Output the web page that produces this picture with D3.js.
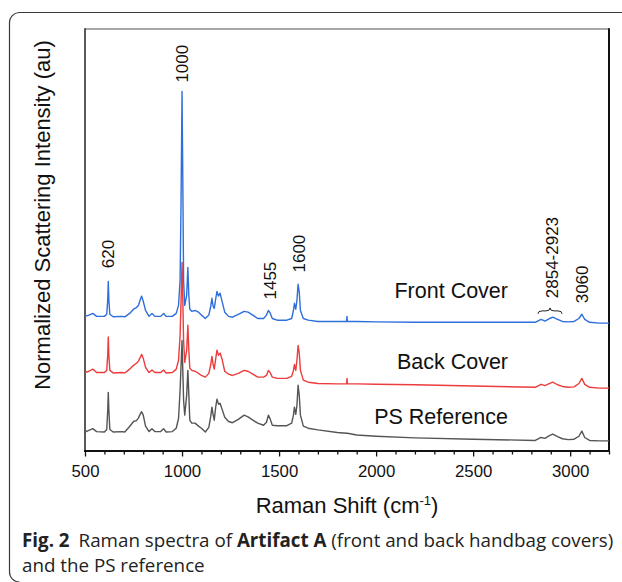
<!DOCTYPE html>
<meta charset="utf-8">
<style>
body {
  margin: 0;
  background-color: #ffffff;
}
.axis text {
  font: 16.8px "Liberation Sans", Arial, sans-serif;
  fill: #111;
}
.axis line {
  stroke: #111;
  stroke-width: 1.3px;
}
.spectrum {
  fill: none;
  stroke-width: 1.4px;
  stroke-linejoin: round;
}
.peak-label {
  font: 17px "Liberation Sans", Arial, sans-serif;
  fill: #111;
}
.series-label {
  font: 21.5px "Liberation Sans", Arial, sans-serif;
  fill: #111;
}
.axis-title {
  font: 22px "Liberation Sans", Arial, sans-serif;
  fill: #111;
}
.caption {
  font-family: "Open Sans", "Noto Sans", sans-serif;
  fill: #222;
}
</style>
<body>
<svg width="622" height="582"></svg>
</body>

<script src="https://cdn.jsdelivr.net/npm/d3@7/dist/d3.min.js"></script>

<script>

// raman shift grid (cm-1), shared by the three spectra
var shifts = [500,520,540,560,600,612,617,620,623,628,645,690,705,730,750,765,775,785,792,800,
  812,830,845,860,890,905,918,950,970,982,990,995,1000,1004,1008,1014,1024,1030,1035,1040,
  1050,1067,1085,1100,1120,1138,1148,1154,1160,1166,1174,1180,1188,1196,1205,1220,1240,1260,1290,1320,
  1340,1365,1390,1420,1435,1445,1455,1465,1490,1540,1565,1574,1579,1586,1592,1598,1604,1610,1625,1650,
  1700,1800,1848,1850,1852,1900,2000,2200,2500,2820,2850,2870,2895,2910,2935,2960,2990,3020,3045,3060,
  3075,3100,3150,3200];

// normalized intensities (stacked, au)
var frontCover = [31.9,32.2,32.6,31.9,31.9,32.4,35.7,40.2,35.7,32.4,31.8,31.9,31.8,32.6,33.6,34.0,34.5,35.9,36.7,35.5,
  33.3,31.9,32.6,31.9,31.9,32.6,31.9,31.9,32.6,34.5,40.5,59.4,85.2,64.1,40.5,34.5,36.9,43.5,36.9,33.6,
  33.1,33.3,32.9,32.2,31.4,32.2,34.3,36.2,34.3,33.8,36.2,37.8,36.7,37.4,35.7,32.9,31.9,31.7,32.4,33.1,
  32.9,32.2,31.4,31.4,32.2,33.3,32.6,31.4,31.0,31.0,31.4,33.3,35.0,33.6,35.7,39.5,37.6,33.3,31.4,31.0,
  30.7,30.7,30.7,31.9,30.7,30.7,30.6,30.5,30.5,30.5,31.2,30.8,31.4,31.7,31.2,30.7,30.6,30.7,31.4,32.4,
  31.2,30.5,30.3,30.3];

var backCover = [18.6,18.9,19.4,18.6,18.6,19.1,22.7,27.0,22.7,19.1,18.5,18.6,18.5,19.4,20.3,20.8,21.3,22.2,22.9,22.0,
  19.8,18.6,19.2,18.6,18.6,19.2,18.5,18.6,19.4,21.5,27.4,35.7,44.7,35.7,26.2,21.0,23.9,29.8,23.9,19.6,
  19.1,18.9,18.4,17.9,17.5,18.4,20.5,22.4,20.5,19.4,22.0,23.9,22.7,23.2,22.0,18.9,18.2,17.9,18.4,19.1,
  18.9,18.2,17.5,17.5,17.9,19.1,18.5,17.5,17.2,17.2,17.7,19.1,20.5,19.1,21.5,25.0,23.2,19.1,16.8,16.3,
  16.0,15.9,15.9,17.2,15.9,15.9,15.8,15.7,15.4,15.1,15.8,15.5,16.0,16.3,15.7,15.3,15.1,15.2,16.0,17.2,
  15.8,15.1,14.9,14.9];

var psReference = [4.5,4.9,5.3,4.6,4.5,5.1,9.6,13.9,9.6,5.1,4.5,4.6,4.5,5.8,7.0,7.2,7.8,8.8,9.3,8.5,
  5.9,4.6,5.3,4.6,4.6,5.3,4.5,4.6,5.4,7.7,14.4,20.3,26.2,19.1,12.0,8.5,13.3,19.1,13.3,7.3,
  6.6,6.6,5.9,5.4,4.5,5.6,8.2,10.4,8.7,7.3,10.6,12.3,11.1,11.3,10.1,8.0,7.0,6.7,7.5,8.5,
  8.1,7.3,6.6,6.1,6.8,8.5,7.5,6.1,6.0,6.0,6.6,8.5,10.4,8.7,10.8,15.6,13.2,8.5,5.9,5.4,
  5.0,4.4,4.2,4.2,4.2,3.8,3.5,3.1,2.8,2.5,3.2,3.0,3.7,4.0,3.4,2.9,2.7,2.8,3.5,4.7,
  3.2,2.5,2.4,2.4];

var seriesNames = ["Front Cover", "Back Cover", "PS Reference"];
var seriesColors = ["#2e6fdc", "#ec3c3c", "#555555"];
// level (au) of each series label baseline
var seriesLabelLevel = [36.2, 19.4, 6.3];

var peakLabels = ["620", "1000", "1455", "1600", "2854-2923", "3060"];
var peakShifts = [620, 1000, 1455, 1600, 2904, 3058];
var peakLevels = [43.3, 87.3, 35.9, 42.3, 36.2, 35.0];

var xTicks = [500, 1000, 1500, 2000, 2500, 3000];

var svg = d3.select("svg");

var plot = {left: 85, right: 609, top: 29, bottom: 451};

var x = d3.scaleLinear().domain([500, 3200]).range([plot.left, plot.right]);
var y = d3.scaleLinear().domain([0, 100]).range([plot.bottom, plot.top]);

// outer figure border (only top/left visible)
svg.append("path")
  .attr("d", "M622,12.5 H19 A10,10 0 0 0 9.5,22.5 V572 A10,10 0 0 0 19.5,582")
  .attr("fill", "none")
  .attr("stroke", "#3a3a3a")
  .attr("stroke-width", 1.2);

// frame
svg.append("line")
  .attr("x1", plot.left).attr("x2", plot.right)
  .attr("y1", plot.top).attr("y2", plot.top)
  .attr("stroke", "#8a8a8a").attr("stroke-width", 1.5);
svg.append("line")
  .attr("x1", plot.right).attr("x2", plot.right)
  .attr("y1", plot.top - 0.7).attr("y2", plot.bottom)
  .attr("stroke", "#111").attr("stroke-width", 2);
svg.append("line")
  .attr("x1", plot.left).attr("x2", plot.left)
  .attr("y1", plot.top - 0.7).attr("y2", plot.bottom)
  .attr("stroke", "#222").attr("stroke-width", 1.5);

// spectra
var line = d3.line()
  .x(function(d) { return x(d[0]); })
  .y(function(d) { return y(d[1]); });

[psReference, backCover, frontCover].forEach(function(vals, k) {
  var idx = 2 - k;
  svg.append("path")
    .datum(shifts.map(function(s, i) { return [s, vals[i]]; }))
    .attr("class", "spectrum")
    .attr("stroke", seriesColors[idx])
    .attr("d", line);
});

// x axis
var minorTicks = d3.range(600, 3201, 100).filter(function(v) { return v % 500 !== 0; });

var gMinor = svg.append("g")
  .attr("class", "axis")
  .attr("transform", "translate(0," + plot.bottom + ")")
  .call(d3.axisBottom(x).tickValues(minorTicks).tickSize(3.5).tickFormat(""));
gMinor.select(".domain").remove();

var gX = svg.append("g")
  .attr("class", "axis")
  .attr("transform", "translate(0," + plot.bottom + ")")
  .call(d3.axisBottom(x).tickValues(xTicks).tickSize(5.5).tickPadding(8.5).tickFormat(d3.format("d")));
gX.select(".domain").remove();

svg.append("line")
  .attr("x1", plot.left - 1).attr("x2", plot.right + 1)
  .attr("y1", plot.bottom).attr("y2", plot.bottom)
  .attr("stroke", "#111").attr("stroke-width", 2);

// series labels
svg.selectAll(".series-label")
  .data(seriesNames)
  .enter().append("text")
  .attr("class", "series-label")
  .attr("x", 508)
  .attr("y", function(d, i) { return y(seriesLabelLevel[i]); })
  .attr("text-anchor", "end")
  .text(function(d) { return d; });

// peak labels
svg.selectAll(".peak-label")
  .data(peakLabels)
  .enter().append("text")
  .attr("class", "peak-label")
  .attr("transform", function(d, i) {
    return "translate(" + x(peakShifts[i]) + "," + y(peakLevels[i]) + ")rotate(-90)";
  })
  .attr("dy", "0.36em")
  .text(function(d) { return d; });

// brace over 2854-2923
var bx1 = x(2834), bx2 = x(2958), bxm = (bx1 + bx2) / 2;
var byb = y(32.5), byt = y(33.9), bym = (byb + byt) / 2;
svg.append("path")
  .attr("d", "M" + bx1 + "," + byb +
    " Q" + bx1 + "," + bym + " " + (bx1 + 4) + "," + bym +
    " L" + (bxm - 4) + "," + bym +
    " Q" + bxm + "," + bym + " " + bxm + "," + byt +
    " Q" + bxm + "," + bym + " " + (bxm + 4) + "," + bym +
    " L" + (bx2 - 4) + "," + bym +
    " Q" + bx2 + "," + bym + " " + bx2 + "," + byb)
  .attr("fill", "none")
  .attr("stroke", "#222")
  .attr("stroke-width", 1);

// axis titles
svg.append("text")
  .attr("class", "axis-title")
  .attr("transform", "translate(42,215)rotate(-90)")
  .attr("text-anchor", "middle")
  .attr("dy", "0.35em")
  .text("Normalized Scattering Intensity (au)");

var xt = svg.append("text")
  .attr("class", "axis-title")
  .attr("x", 347)
  .attr("y", 513)
  .attr("text-anchor", "middle");
xt.append("tspan").text("Raman Shift (cm");
xt.append("tspan").attr("font-size", "13px").attr("dy", -8).text("-1");
xt.append("tspan").attr("dy", 8).text(")");

// caption
var cap1 = svg.append("text")
  .attr("class", "caption")
  .attr("x", 22)
  .attr("y", 547);
cap1.append("tspan").attr("font-weight", "bold").text("Fig. 2");
cap1.append("tspan").attr("dx", 9).text("Raman spectra of ");
cap1.append("tspan").attr("font-weight", "bold").text("Artifact A");
cap1.append("tspan").text(" (front and back handbag covers)");

var cap2 = svg.append("text")
  .attr("class", "caption")
  .attr("x", 22)
  .attr("y", 572)
  .text("and the PS reference");

// fit caption width to the figure
var capSize = 17;
svg.selectAll(".caption").style("font-size", capSize + "px");
var w = cap1.node().getComputedTextLength();
capSize = capSize * 583 / w;
svg.selectAll(".caption").style("font-size", capSize + "px");

</script>
